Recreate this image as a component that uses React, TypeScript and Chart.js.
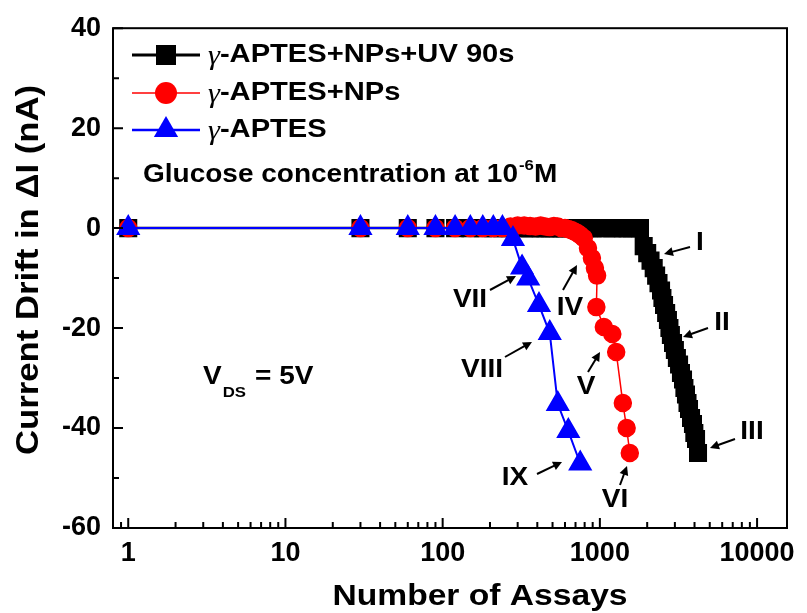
import React, { useEffect, useRef } from "react";
import { Chart, registerables } from "chart.js";

Chart.register(...registerables);

// ---- data ----
const xTickValues = [1, 10, 100, 1000, 10000];
const yTickValues = [40, 20, 0, -20, -40, -60];
const yMinorValues = [30, 10, -10, -30, -50];

const seriesNames = ["\u03B3-APTES+NPs+UV 90s", "\u03B3-APTES+NPs", "\u03B3-APTES"];

const uvX = [1, 30, 60, 90, 120, 150, 180, 210, 240, 270, 300, 330, 360, 390, 420, 450, 480, 510, 540, 570, 600, 650, 700, 750, 800, 850, 900, 1000, 1100, 1200, 1300, 1400, 1500, 1600, 1700, 1800,
  1900, 2000, 2100, 2200, 2280, 2360, 2450, 2500, 2560, 2640, 2710, 2770, 2830, 2920, 3000, 3090, 3190, 3280, 3380, 3450, 3530, 3610, 3690, 3800, 3910, 3990, 4090, 4210];
const uvY = [0, 0, 0, 0, 0, 0, 0, 0, 0, 0, 0, 0, 0, 0, 0, 0, 0, 0, 0, 0, 0, 0, 0, 0, 0, 0, 0, 0, 0, 0, 0, 0, 0, 0, 0, 0,
  -3.6, -5, -6.5, -8, -9.5, -11, -12.5, -14, -15.4, -17, -18.4, -20, -21.4, -23, -24.4, -26, -27.3, -29, -30.3, -32, -33.3, -35, -36.2, -38, -39.2, -41, -42.2, -45];

const npX = [1, 30, 60, 90, 120, 150, 180, 210, 240, 270, 300, 330, 360, 390, 420, 450, 480, 510, 540, 570, 600, 630, 660, 690, 720, 750, 790, 840, 890, 930, 960, 950, 1060, 1200, 1270, 1400, 1480, 1550];
const npY = [0, 0, 0, 0, 0, 0, 0, 0, 0, 0.3, 0.5, 0.5, 0.4, 0.3, 0.5, 0.3, 0.2, 0.4, 0.3, 0, 0, -0.2, -0.4, -0.7, -1, -1.4, -2, -4, -6, -8, -9.5, -15.8, -19.8, -21.2, -24.8, -35, -40, -45];

const apX = [1, 30, 60, 90, 120, 150, 180, 210, 240, 280, 320, 350, 410, 480, 540, 630, 750];
const apY = [0, 0, 0, 0, 0, 0, 0, 0, 0, -2.2, -7.9, -10.1, -15.4, -21, -35.2, -40.6, -47.1];

const annotations = [
  { t: "I", x: 700, y: 243, ax: [690, 247, 664, 254] },
  { t: "II", x: 722, y: 323, ax: [708, 328, 683, 337] },
  { t: "III", x: 752, y: 432, ax: [735, 439, 710, 448] },
  { t: "IV", x: 570, y: 308, ax: [563, 290, 577, 265] },
  { t: "V", x: 586, y: 387, ax: [588, 372, 600, 352] },
  { t: "VI", x: 615, y: 500, ax: [620, 485, 627, 466] },
  { t: "VII", x: 470, y: 300, ax: [490, 290, 516, 276] },
  { t: "VIII", x: 482, y: 370, ax: [505, 357, 532, 342] },
  { t: "IX", x: 515, y: 478, ax: [537, 474, 562, 462] },
];

const FONT = '"Liberation Sans", Arial, Helvetica, sans-serif';
const SX = 1.12;

function drawText(ctx: CanvasRenderingContext2D, s: string, x: number, y: number, size: number, align = "left", rot = 0, font = "") {
  ctx.save();
  ctx.font = font || `bold ${size}px ${FONT}`;
  ctx.textBaseline = "middle";
  ctx.fillStyle = "#000";
  const w = ctx.measureText(s).width * SX;
  ctx.translate(x, y);
  if (rot) ctx.rotate(rot);
  const x0 = align === "center" ? -w / 2 : align === "right" ? -w : 0;
  ctx.translate(x0, 0);
  ctx.scale(SX, 1);
  ctx.textAlign = "left";
  ctx.fillText(s, 0, 0);
  ctx.restore();
  return w;
}

function drawArrow(ctx: CanvasRenderingContext2D, x1: number, y1: number, x2: number, y2: number) {
  const ang = Math.atan2(y2 - y1, x2 - x1);
  const hl = 9, hw = 4.5;
  ctx.save();
  ctx.strokeStyle = "#000";
  ctx.fillStyle = "#000";
  ctx.lineWidth = 2;
  ctx.beginPath();
  ctx.moveTo(x1, y1);
  ctx.lineTo(x2 - Math.cos(ang) * hl * 0.8, y2 - Math.sin(ang) * hl * 0.8);
  ctx.stroke();
  ctx.beginPath();
  ctx.moveTo(x2, y2);
  ctx.lineTo(x2 - Math.cos(ang) * hl - Math.sin(ang) * hw, y2 - Math.sin(ang) * hl + Math.cos(ang) * hw);
  ctx.lineTo(x2 - Math.cos(ang) * hl + Math.sin(ang) * hw, y2 - Math.sin(ang) * hl - Math.cos(ang) * hw);
  ctx.closePath();
  ctx.fill();
  ctx.restore();
}

function drawMarker(ctx: CanvasRenderingContext2D, style: string, x: number, y: number, color: string) {
  ctx.save();
  ctx.fillStyle = color;
  ctx.beginPath();
  if (style === "rect") {
    ctx.rect(x - 10, y - 10, 20, 20);
  } else if (style === "circle") {
    ctx.arc(x, y, 11, 0, Math.PI * 2);
  } else {
    const r = 14;
    ctx.moveTo(x, y - r);
    ctx.lineTo(x + r * Math.sin(Math.PI / 3), y + r / 2);
    ctx.lineTo(x - r * Math.sin(Math.PI / 3), y + r / 2);
    ctx.closePath();
  }
  ctx.fill();
  ctx.restore();
}

const overlayPlugin = {
  id: "overlay",
  afterDraw(chart: any) {
    const ctx: CanvasRenderingContext2D = chart.ctx;
    const { left, right, top, bottom } = chart.chartArea;
    const xs = chart.scales.x;
    const ys = chart.scales.y;
    ctx.save();
    ctx.strokeStyle = "#000";
    ctx.lineWidth = 2;
    ctx.strokeRect(left, top, right - left, bottom - top);
    ctx.beginPath();
    for (const v of yTickValues) {
      const py = ys.getPixelForValue(v);
      ctx.moveTo(left, py);
      ctx.lineTo(left + 10, py);
    }
    for (const v of yMinorValues) {
      const py = ys.getPixelForValue(v);
      ctx.moveTo(left, py);
      ctx.lineTo(left + 6, py);
    }
    for (const v of xTickValues) {
      const px = xs.getPixelForValue(v);
      ctx.moveTo(px, bottom);
      ctx.lineTo(px, bottom - 10);
    }
    for (const d of [0.1, 1, 10, 100, 1000, 10000]) {
      for (let m = 2; m <= 9; m++) {
        const v = d * m;
        if (v <= xs.min || v >= xs.max) continue;
        const px = xs.getPixelForValue(v);
        ctx.moveTo(px, bottom);
        ctx.lineTo(px, bottom - 6);
      }
    }
    ctx.stroke();
    ctx.restore();

    // legend
    const rows = [
      { y: 55, color: "#000000", style: "rect", lw: 3 },
      { y: 93, color: "#ff0000", style: "circle", lw: 1.5 },
      { y: 130, color: "#0000ff", style: "triangle", lw: 2.5 },
    ];
    rows.forEach((r, i) => {
      ctx.save();
      ctx.strokeStyle = r.color;
      ctx.lineWidth = r.lw;
      ctx.beginPath();
      ctx.moveTo(132, r.y);
      ctx.lineTo(200, r.y);
      ctx.stroke();
      ctx.restore();
      drawMarker(ctx, r.style, 166, r.y, r.color);
      const name = seriesNames[i];
      const gw = drawText(ctx, name.charAt(0), 208, r.y + 2, 26, "left", 0, 'italic 27px "Liberation Serif", serif');
      drawText(ctx, name.slice(1), 208 + gw, r.y, 26);
    });

    // glucose label
    let gx = 143;
    gx += drawText(ctx, "Glucose concentration at 10", gx, 175, 25);
    gx += drawText(ctx, "-6", gx + 1, 166, 15) + 1;
    drawText(ctx, "M", gx, 175, 25);

    // VDS label
    let vx = 203;
    vx += drawText(ctx, "V", vx, 377, 25);
    drawText(ctx, "DS", vx + 1, 393, 15);
    drawText(ctx, "= 5V", 255, 377, 25);

    // annotations
    for (const a of annotations) {
      drawText(ctx, a.t, a.x, a.y, 25, "center");
      drawArrow(ctx, a.ax[0], a.ax[1], a.ax[2], a.ax[3]);
    }

    // axis titles
    drawText(ctx, "Number of Assays", 480, 597, 30, "center");
    drawText(ctx, "Current Drift in \u0394I (nA)", 29, 270, 31, "center", -Math.PI / 2);
  },
};

function pts(xs: number[], ys: number[]) {
  return xs.map((x, i) => ({ x, y: ys[i] }));
}

export default function App() {
  const ref = useRef<HTMLCanvasElement | null>(null);
  useEffect(() => {
    if (!ref.current) return;
    const chart = new Chart(ref.current, {
      type: "line",
      data: {
        datasets: [
          {
            label: seriesNames[2],
            data: pts(apX, apY),
            borderColor: "#0000ff",
            backgroundColor: "#0000ff",
            pointBackgroundColor: "#0000ff",
            pointBorderColor: "#0000ff",
            pointStyle: "triangle",
            pointRadius: 12,
            borderWidth: 2,
            tension: 0,
            order: 1,
          },
          {
            label: seriesNames[1],
            data: pts(npX, npY),
            borderColor: "#ff0000",
            backgroundColor: "#ff0000",
            pointBackgroundColor: "#ff0000",
            pointBorderColor: "#ff0000",
            pointStyle: "circle",
            pointRadius: 8.5,
            borderWidth: 1.5,
            tension: 0,
            order: 2,
          },
          {
            label: seriesNames[0],
            data: pts(uvX, uvY),
            borderColor: "#000000",
            backgroundColor: "#000000",
            pointBackgroundColor: "#000000",
            pointBorderColor: "#000000",
            pointStyle: "rect",
            pointRadius: 11,
            borderWidth: 2.5,
            tension: 0,
            order: 3,
          },
        ],
      },
      options: {
        responsive: false,
        animation: false,
        devicePixelRatio: 1,
        layout: { padding: { top: 23, right: 20, left: 0, bottom: 0 } },
        plugins: { legend: { display: false }, tooltip: { enabled: false } },
        scales: {
          x: {
            type: "logarithmic",
            min: 0.8,
            max: 15500,
            grid: { display: false, drawTicks: false },
            border: { display: false },
            afterBuildTicks: (s: any) => {
              s.ticks = xTickValues.map((v) => ({ value: v, major: true }));
            },
            afterFit: (s: any) => {
              s.height = 85;
            },
            ticks: {
              autoSkip: false,
              maxRotation: 0,
              padding: 9,
              color: "#000",
              font: { family: FONT, size: 27, weight: "bold" },
              callback: (v: any) => String(v),
            },
          },
          y: {
            type: "linear",
            min: -60,
            max: 40,
            grid: { display: false, drawTicks: false },
            border: { display: false },
            afterBuildTicks: (s: any) => {
              s.ticks = yTickValues.map((v) => ({ value: v }));
            },
            afterFit: (s: any) => {
              s.width = 113;
            },
            ticks: {
              padding: 12,
              color: "#000",
              font: { family: FONT, size: 27, weight: "bold" },
              callback: (v: any) => String(v),
            },
          },
        },
      },
      plugins: [overlayPlugin],
    } as any);
    return () => chart.destroy();
  }, []);
  return (
    <div style={{ position: "absolute", left: 0, top: 0, width: 807, height: 613, background: "#fff" }}>
      <canvas ref={ref} width={807} height={613} style={{ display: "block" }} />
    </div>
  );
}
